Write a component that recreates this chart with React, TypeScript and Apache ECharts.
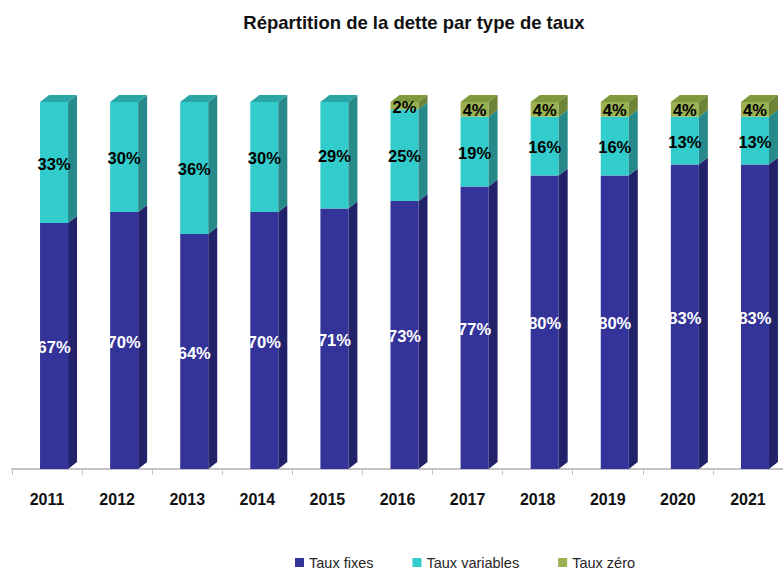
import React, { useEffect, useRef } from "react";
import * as echarts from "echarts";

const years = ["2011", "2012", "2013", "2014", "2015", "2016", "2017", "2018", "2019", "2020", "2021"];
const tauxFixes = [67, 70, 64, 70, 71, 73, 77, 80, 80, 83, 83];
const tauxVariables = [33, 30, 36, 30, 29, 25, 19, 16, 16, 13, 13];
const tauxZero = [0, 0, 0, 0, 0, 2, 4, 4, 4, 4, 4];

const FONT = '"Liberation Sans", Arial, sans-serif';

type Palette = { front: string; side: string; top: string; label: string };

const makeRender = (pal: Palette) => (params: any, api: any) => {
  const idx = api.value(0);
  const base = api.value(1);
  const val = api.value(2);
  const isTop = api.value(3);
  if (!val) return null;
  const pB = api.coord([idx, base]);
  const pT = api.coord([idx, base + val]);
  const w = 28;
  const dx = 9;
  const dy = 7;
  const x0 = pB[0] - 7;
  const x1 = x0 + w;
  const yb = pB[1];
  const yt = pT[1];
  const children: any[] = [
    { type: "rect", shape: { x: x0, y: yt, width: w, height: yb - yt }, style: { fill: pal.front } },
    {
      type: "polygon",
      shape: { points: [[x1, yb], [x1 + dx, yb - dy], [x1 + dx, yt - dy], [x1, yt]] },
      style: { fill: pal.side },
    },
  ];
  if (isTop) {
    children.push({
      type: "polygon",
      shape: { points: [[x0, yt], [x1, yt], [x1 + dx, yt - dy], [x0 + dx, yt - dy]] },
      style: { fill: pal.top },
    });
  }
  children.push({
    type: "text",
    x: (x0 + x1) / 2,
    y: (yb + yt) / 2 + 1,
    style: {
      text: val + "%",
      fill: pal.label,
      fontSize: 16.5,
      fontWeight: "bold",
      fontFamily: FONT,
      align: "center",
      verticalAlign: "middle",
    },
  });
  return { type: "group", children };
};

const palFix: Palette = { front: "#333399", side: "#22226B", top: "#2A2A82", label: "#FFFFFF" };
const palVar: Palette = { front: "#33CCCC", side: "#278A8A", top: "#2AA6A6", label: "#000000" };
const palZero: Palette = { front: "#9AB152", side: "#6D8436", top: "#7F9A3E", label: "#000000" };

export default function App() {
  const ref = useRef<HTMLDivElement>(null);
  useEffect(() => {
    if (!ref.current) return;
    const chart = echarts.init(ref.current, undefined, { renderer: "svg" });
    const fixData = years.map((_, i) => [i, 0, tauxFixes[i], tauxVariables[i] + tauxZero[i] === 0 ? 1 : 0]);
    const varData = years.map((_, i) => [i, tauxFixes[i], tauxVariables[i], tauxZero[i] === 0 ? 1 : 0]);
    const zeroData = years.map((_, i) => [i, tauxFixes[i] + tauxVariables[i], tauxZero[i], 1]);
    chart.setOption({
      animation: false,
      backgroundColor: "#FFFFFF",
      title: {
        text: "Répartition de la dette par type de taux",
        left: 409,
        top: 8,
        textAlign: "center",
        textStyle: { fontSize: 18.5, fontWeight: "bold", fontFamily: FONT, color: "#111111" },
      },
      legend: {
        left: 290,
        top: 550,
        icon: "rect",
        itemWidth: 9,
        itemHeight: 9,
        itemGap: 39,
        textStyle: { fontSize: 14.5, fontFamily: FONT, color: "#262626" },
        data: ["Taux fixes", "Taux variables", "Taux zéro"],
      },
      grid: { left: 12, top: 102, width: 777, height: 367 },
      xAxis: {
        type: "category",
        data: years,
        offset: 5,
        axisLine: { lineStyle: { color: "#C4C4C4", width: 2 } },
        axisTick: { show: true, length: 6, lineStyle: { color: "#C4C4C4", width: 1 } },
        axisLabel: { margin: 17, fontSize: 16, fontWeight: "bold", fontFamily: FONT, color: "#111111", interval: 0 },
        splitLine: { show: false },
      },
      yAxis: { type: "value", min: 0, max: 100, show: false, splitLine: { show: false } },
      series: [
        {
          type: "custom",
          name: "Taux fixes",
          itemStyle: { color: palFix.front },
          renderItem: makeRender(palFix),
          encode: { x: 0, y: [1, 2] },
          data: fixData,
        },
        {
          type: "custom",
          name: "Taux variables",
          itemStyle: { color: palVar.front },
          renderItem: makeRender(palVar),
          encode: { x: 0, y: [1, 2] },
          data: varData,
        },
        {
          type: "custom",
          name: "Taux zéro",
          itemStyle: { color: palZero.front },
          renderItem: makeRender(palZero),
          encode: { x: 0, y: [1, 2] },
          data: zeroData,
        },
      ],
    });
    return () => chart.dispose();
  }, []);
  return (
    <div
      ref={ref}
      style={{ position: "absolute", left: 0, top: 0, width: 783, height: 572 }}
    />
  );
}
